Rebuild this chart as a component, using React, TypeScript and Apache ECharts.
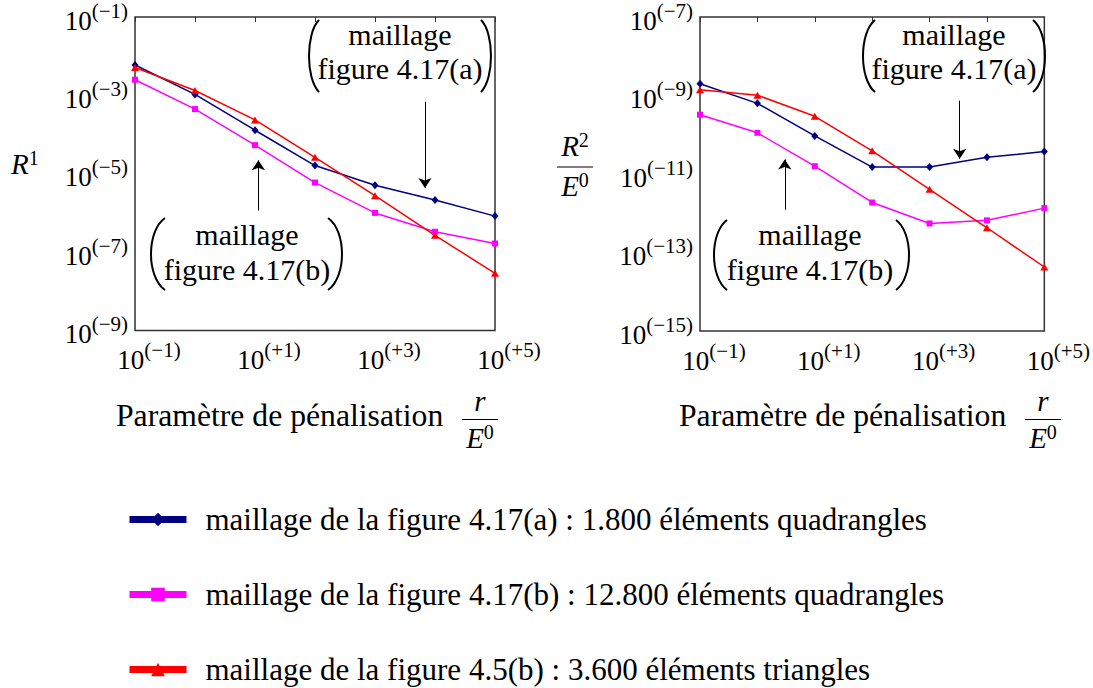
import React, { useEffect, useRef } from 'react';
import * as echarts from 'echarts';

// ---------- data ----------
const xValues = [0.1, 1, 10, 100, 1000, 10000, 100000];

const r1MeshA = [5.96e-3, 1.06e-3, 1.29e-4, 1.62e-5, 5.1e-6, 2.14e-6, 8.3e-7];
const r1MeshB = [2.51e-3, 4.47e-4, 5.37e-5, 5.96e-6, 1.0e-6, 3.31e-7, 1.66e-7];
const r1Tri = [5.13e-3, 1.33e-3, 2.37e-4, 2.63e-5, 2.75e-6, 2.69e-7, 2.88e-8];

const r2MeshA = [2.0e-9, 6.31e-10, 9.33e-11, 1.5e-11, 1.5e-11, 2.66e-11, 3.72e-11];
const r2MeshB = [3.24e-10, 1.12e-10, 1.58e-11, 1.88e-12, 5.5e-13, 6.6e-13, 1.35e-12];
const r2Tri = [1.41e-9, 1.02e-9, 2.95e-10, 3.89e-11, 4.07e-12, 4.27e-13, 4.27e-14];

const seriesNames = [
  'maillage de la figure 4.17(a) : 1.800 éléments quadrangles',
  'maillage de la figure 4.17(b) : 12.800 éléments quadrangles',
  'maillage de la figure 4.5(b) : 3.600 éléments triangles',
];
const colors = ['#000080', '#ff00ff', '#ff0000'];
const symbols = ['diamond', 'rect', 'triangle'];
const symbolSizes: any[] = [[7, 8], 6, [8, 7]];

const xRange = [0.1, 1e5];
const yRange1 = [1e-9, 1e-1];
const yRange2 = [1e-15, 1e-7];
const gridLines1 = [1e-3, 1e-5, 1e-7];
const gridLines2 = [1e-9, 1e-11, 1e-13];

// annotation arrows (data coordinates): x, start y, tip y
const arrows1 = [
  { x: 6800, from: 6.9e-4, to: 4.3e-6 },
  { x: 11.4, from: 1.15e-6, to: 2.2e-5 },
];
const arrows2 = [
  { x: 3350, from: 7.4e-10, to: 2.45e-11 },
  { x: 3.0, from: 1.23e-12, to: 2.35e-11 },
];

const SERIF = 'Liberation Serif';

const tickFormatter = (v: number) => {
  const e = Math.round(Math.log10(v));
  if (e % 2 === 0) return '';
  const s = e > 0 ? '+' + e : '\u2212' + -e;
  return `{b|10}{s|(${s})}`;
};

const tickRich = {
  b: { fontFamily: SERIF, fontSize: 27, lineHeight: 34, verticalAlign: 'bottom', color: '#000' },
  s: { fontFamily: SERIF, fontSize: 21, lineHeight: 22, verticalAlign: 'top', color: '#000' },
};

const mkSeries = (name: string, data: number[], idx: number, gi: number, extra: any = {}) => ({
  type: 'line',
  name,
  xAxisIndex: gi * 2,
  yAxisIndex: gi,
  data: xValues.map((x, i) => [x, data[i]]),
  symbol: symbols[idx],
  symbolSize: symbolSizes[idx],
  showAllSymbol: true,
  color: colors[idx],
  lineStyle: { color: colors[idx], width: 1.5 },
  itemStyle: { color: colors[idx] },
  z: 3,
  ...extra,
});

const gridMarkLine = (vals: number[]) => ({
  silent: true,
  symbol: 'none',
  label: { show: false },
  lineStyle: { color: '#222', width: 1, type: 'solid' },
  emphasis: { disabled: true },
  data: vals.map((v) => ({ yAxis: v })),
});

const arrowMarkLine = (arr: { x: number; from: number; to: number }[]) => ({
  silent: true,
  symbol: ['none', 'arrow'],
  symbolSize: 10,
  label: { show: false },
  lineStyle: { color: '#000', width: 1, type: 'solid' },
  emphasis: { disabled: true },
  data: arr.map((a) => [
    { coord: [a.x, a.from], symbol: 'none' },
    { coord: [a.x, a.to], symbol: 'arrow', symbolSize: 10 },
  ]),
});

const bottomX = (gi: number) => ({
  type: 'log',
  logBase: 10,
  gridIndex: gi,
  min: xRange[0],
  max: xRange[1],
  position: 'bottom',
  axisLine: { show: false },
  axisTick: { show: false },
  splitLine: { show: false },
  axisLabel: {
    formatter: tickFormatter,
    rich: tickRich,
    fontFamily: SERIF,
    margin: 9,
    padding: [0, 0, 0, 28],
  },
});

const topX = (gi: number) => ({
  type: 'log',
  logBase: 10,
  gridIndex: gi,
  min: xRange[0],
  max: xRange[1],
  position: 'top',
  axisLine: { show: false },
  axisTick: { show: true, inside: true, length: 5, lineStyle: { color: '#333', width: 1 } },
  splitLine: { show: false },
  axisLabel: { show: false },
});

const yAx = (gi: number, range: number[]) => ({
  type: 'log',
  logBase: 10,
  gridIndex: gi,
  min: range[0],
  max: range[1],
  axisLine: { show: false },
  axisTick: { show: false },
  splitLine: { show: false },
  axisLabel: { formatter: tickFormatter, rich: tickRich, fontFamily: SERIF, margin: 7 },
});

// ---------- graphic helpers ----------
const text = (x: number, y: number, t: string, fontSize = 30, extra: any = {}) => ({
  type: 'text',
  x,
  y,
  silent: true,
  style: {
    text: t,
    fontFamily: SERIF,
    fontSize,
    fill: '#000',
    align: 'center',
    verticalAlign: 'middle',
    ...extra,
  },
});

const paren = (xl: number, xr: number, y0: number, y1: number, left: boolean) => {
  const h = y1 - y0;
  const ex = left ? xr : xl;
  const tip = left ? xl + 1 : xr - 1;
  const cx = (tip - 0.25 * ex) / 0.75;
  return {
    type: 'bezierCurve',
    silent: true,
    shape: { x1: ex, y1: y0, x2: ex, y2: y1, cpx1: cx, cpy1: y0 + h * 0.18, cpx2: cx, cpy2: y0 + h * 0.82 },
    style: { stroke: '#000', lineWidth: 2, fill: 'none' },
  };
};

const annotation = (cx: number, yA: number, yB: number, second: string, pl: number[], pr: number[], py: number[]) => [
  text(cx, yA, 'maillage'),
  text(cx, yB, second),
  paren(pl[0], pl[1], py[0], py[1], true),
  paren(pr[0], pr[1], py[0], py[1], false),
];

const supRich = {
  i: { fontFamily: SERIF, fontStyle: 'italic', fontSize: 29, lineHeight: 30, verticalAlign: 'bottom', fill: '#000' },
  s: { fontFamily: SERIF, fontSize: 20, lineHeight: 20, verticalAlign: 'top', fill: '#000' },
};

const fracE0 = (cx: number, yLine: number, yBot: number, top: any, lineHalf = 18) => [
  top,
  { type: 'line', silent: true, shape: { x1: cx - lineHalf, y1: yLine, x2: cx + lineHalf, y2: yLine }, style: { stroke: '#000', lineWidth: 1.2 } },
  {
    type: 'text',
    x: cx,
    y: yBot,
    silent: true,
    style: { text: '{i|E}{s|0}', fontFamily: SERIF, align: 'center', verticalAlign: 'middle', rich: supRich },
  },
];

const xTitle = (x0: number, fracCx: number) => [
  text(x0, 415, 'Paramètre de pénalisation', 31.7, { align: 'left' }),
  ...fracE0(fracCx, 419.5, 437, text(fracCx, 401, 'r', 29, { fontStyle: 'italic' })),
];

const graphics = [
  // y titles
  { type: 'text', x: 11, y: 163, silent: true, style: { text: '{i|R}{s|1}', fontFamily: SERIF, align: 'left', verticalAlign: 'middle', rich: supRich } },
  ...fracE0(575, 167, 185, {
    type: 'text',
    x: 575,
    y: 145,
    silent: true,
    style: { text: '{i|R}{s|2}', fontFamily: SERIF, align: 'center', verticalAlign: 'middle', rich: supRich },
  }),
  // x titles
  ...xTitle(116, 480),
  ...xTitle(679, 1043),
  // annotations
  ...annotation(400, 34, 68, 'figure 4.17(a)', [308, 319], [481, 492], [20, 92]),
  ...annotation(247, 234, 269, 'figure 4.17(b)', [150, 165], [328, 343], [218, 290]),
  ...annotation(954, 34, 68, 'figure 4.17(a)', [862, 875], [1033, 1046], [20, 92]),
  ...annotation(810, 234, 269, 'figure 4.17(b)', [713, 727], [896, 910], [220, 290]),
];

const option: any = {
  animation: false,
  backgroundColor: '#fff',
  textStyle: { fontFamily: SERIF },
  grid: [
    { left: 135, top: 10.5, width: 360, height: 320, show: true, borderColor: '#333', borderWidth: 1.5, backgroundColor: 'transparent' },
    { left: 700, top: 12, width: 358, height: 319, show: true, borderColor: '#333', borderWidth: 1.5, backgroundColor: 'transparent' },
  ],
  xAxis: [bottomX(0), topX(0), bottomX(1), topX(1)],
  yAxis: [yAx(0, yRange1), yAx(1, yRange2)],
  legend: {
    orient: 'vertical',
    left: 121,
    top: 499,
    height: 200,
    itemWidth: 57,
    itemHeight: 17,
    itemGap: 44,
    selectedMode: false,
    data: seriesNames,
    lineStyle: { width: 7 },
    textStyle: { fontFamily: SERIF, fontSize: 31, color: '#000', lineHeight: 30, padding: [0, 0, 0, 14] },
  },
  series: [
    mkSeries(seriesNames[0], r1MeshA, 0, 0, { markLine: gridMarkLine(gridLines1) }),
    mkSeries(seriesNames[1], r1MeshB, 1, 0, { markLine: arrowMarkLine(arrows1) }),
    mkSeries(seriesNames[2], r1Tri, 2, 0),
    mkSeries(seriesNames[0], r2MeshA, 0, 1, { markLine: gridMarkLine(gridLines2) }),
    mkSeries(seriesNames[1], r2MeshB, 1, 1, { markLine: arrowMarkLine(arrows2) }),
    mkSeries(seriesNames[2], r2Tri, 2, 1),
  ],
  graphic: graphics,
};

export default function App() {
  const ref = useRef<HTMLDivElement>(null);
  useEffect(() => {
    const chart = echarts.init(ref.current!, null, { renderer: 'svg' });
    chart.setOption(option);
    return () => chart.dispose();
  }, []);
  return (
    <div
      ref={ref}
      style={{ position: 'fixed', left: 0, top: 0, width: 1093, height: 688, background: '#fff' }}
    />
  );
}
